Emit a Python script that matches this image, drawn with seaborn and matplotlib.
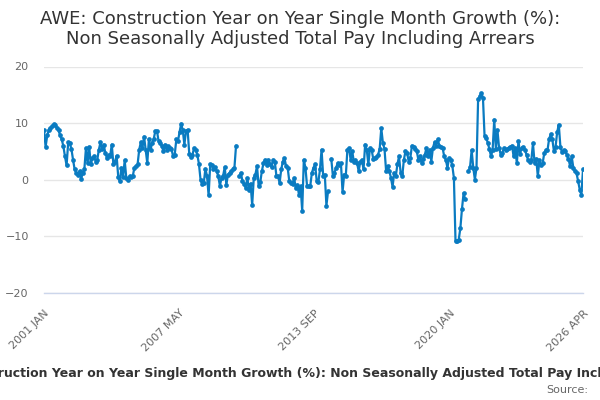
import numpy as np
import pandas as pd
import matplotlib
matplotlib.use("Agg")
import matplotlib.pyplot as plt
import seaborn as sns

# monthly values, 2001 JAN .. 2026 APR (NaN = gap in the series)
growth_2001_2005 = [8.7, 5.8, 7.8, 8.8, 9.1, 9.4, 9.8, 9.6, 9.1, 8.7, 7.8, 7.1, 5.9, 4.1, 2.5,
                    6.6, 6.4, 5.4, 3.5, 1.8, 1.2, 0.9, 1.5, 0.1, 1.2, 1.8, 5.6, 2.9, 5.8, 2.7,
                    3.8, 4.1, 3.2, 3.5, 5.3, 6.6, 5.4, 6.2, 4.7, 3.8, 4.4, 4.2, 6.2, 2.7, 3.2,
                    4.2, 0.5, -0.3, 2.1, 0.5, 3.4, 0.3, -0.1, 0.6]
growth_2005_2009 = [0.5, 0.6, 2.1, 2.4, 2.7, 5.3, 6.6, 5.6, 7.6, 5.3, 2.9, 7.2, 5.2, 6.5, 7.2,
                    8.6, 8.6, 6.8, 6.5, 6.0, 5.0, 6.2, 5.3, 5.9, 5.6, 5.4, 4.1, 4.4, 7.1, 6.8,
                    8.4, 9.9, 8.7, 6.2, 8.6, 8.8, 4.6, 4.0, 4.4, 5.6, 5.2, 4.4, 2.8, 0.0, -0.7,
                    -0.6, 1.9, 0.7, -2.8, 2.7, 2.5, 1.9, 2.2, 1.5, 0.6, -1.1, 0.3]
growth_2009_2013 = [0.7, 2.2, -0.9, 0.9, 1.2, 1.5, 1.8, 2.1, 6.0, np.nan, 0.6, 1.2, -0.3, -0.7,
                    -1.5, 0.3, -1.8, -0.7, -4.5, 0.3, 0.9, 2.4, -1.1, -0.5, 1.5, 2.9, 3.5, 2.5,
                    3.5, 2.7, 2.2, 3.5, 3.2, 0.7, 0.6, -0.6, 1.8, 3.2, 3.8, 2.4, 2.1, -0.3, -0.6,
                    -0.7, 0.3, -1.5, -0.9, -2.7, -1.2, -5.5, 3.5, 2.1, -1.1, -1.2, -1.1, 1.2,
                    2.1, 2.7]
growth_2013_2017 = [-0.3, -0.5, 1.8, 5.3, 0.6, 0.9, -4.6, -2.1, np.nan, 3.7, 0.7, 1.2, 2.1, 2.9,
                    2.5, 2.9, -2.2, 0.9, 0.6, 5.3, 5.6, 3.5, 5.0, 3.2, 3.5, 2.9, 1.5, 3.2, 3.5,
                    1.8, 6.2, 5.3, 2.7, 5.6, 5.3, 3.7, 3.8, 4.0, 4.4, 5.4, 9.1, 6.5, 5.4, 1.5,
                    2.4, 1.5, 0.3, -1.3, 1.2, 0.6, 2.7, 4.1, 1.2, 0.6, 3.5, 5.0]
growth_2017_2021 = [4.7, 3.2, 3.8, 6.0, 5.8, 5.4, 5.0, 3.5, 4.1, 2.9, 3.7, 4.4, 5.6, 4.1, 5.3,
                    3.2, 5.6, 6.6, 6.0, 7.1, 6.0, 5.8, 5.6, 4.1, 3.5, 2.1, 3.8, 3.5, 2.5, 0.3,
                    -10.9, -10.9, -10.6, -8.6, -5.2, -2.4, -3.5, np.nan, 1.5, 2.2, 5.2, 2.1, 0.0,
                    2.1, 14.2, 14.7, 15.3, 14.5, 7.7, 7.4, 6.5, 5.4, 4.1, 5.3, 10.6]
growth_2021_2026 = [5.4, 8.7, 5.6, 4.4, 4.7, 5.6, 5.2, 5.4, 5.6, 5.8, 6.0, 4.1, 5.6, 2.9, 6.8,
                    4.6, 5.6, 5.8, 5.3, 4.4, 3.4, 3.2, 3.5, 6.4, 2.9, 3.7, 0.6, 3.4, 2.5, 2.9,
                    4.7, 5.2, 5.2, 7.2, 8.0, 7.1, 5.0, 5.8, 8.4, 9.7, 5.8, 4.8, 5.2, 5.0, 4.4,
                    3.7, 2.4, 4.1, 2.1, 1.5, 1.1, -0.3, -1.8, -2.7, 1.8]

start_month = "2001-01"
end_month = "2026-04"
label_every = 4
tick_step = 19

title = ("AWE: Construction Year on Year Single Month Growth (%):\n"
         "Non Seasonally Adjusted Total Pay Including Arrears")
series_name = ("Construction Year on Year Single Month Growth (%): "
               "Non Seasonally Adjusted Total Pay Including Arrears")

values = np.array(growth_2001_2005 + growth_2005_2009 + growth_2009_2013
                  + growth_2013_2017 + growth_2017_2021 + growth_2021_2026)
start = pd.Timestamp(start_month)
end = pd.Timestamp(end_month)
n_months = (end.year - start.year) * 12 + (end.month - start.month)

df = pd.DataFrame({
    "month": np.linspace(0, n_months, len(values)),
    "value": values,
})
df["segment"] = df["value"].isna().cumsum()
df = df.dropna()

sns.set_theme(style="white")
plt.rcParams["font.family"] = ["DejaVu Sans"]

fig = plt.figure(figsize=(6, 4), dpi=100)
ax = fig.add_axes([44 / 600, 1 - 292.7 / 400, (583 - 44) / 600, (292.7 - 66.5) / 400])

line_color = "#0a7bc1"
sns.lineplot(data=df, x="month", y="value", units="segment", estimator=None,
             color=line_color, linewidth=1.6, marker="o", markersize=3.4,
             markeredgewidth=0, ax=ax)

ax.set_xlim(0, n_months)
ax.set_ylim(-20, 20)
ax.set_yticks([-20, -10, 0, 10, 20])
ax.yaxis.grid(True, color="#e6e6e6", linewidth=1)
ax.set_axisbelow(True)
ax.tick_params(axis="y", length=0, pad=11, labelsize=8, labelcolor="#666666")

ticks = list(range(0, n_months, tick_step)) + [n_months]
labels = []
for i, m in enumerate(ticks):
    if m == n_months or (i % label_every == 0 and n_months - m > tick_step):
        d = start + pd.DateOffset(months=m)
        labels.append(d.strftime("%Y %b").upper())
    else:
        labels.append("")
ax.set_xticks(ticks)
ax.set_xticklabels(labels, rotation=45, ha="right", rotation_mode="anchor")
ax.tick_params(axis="x", length=9, width=1, color="#ccd6eb", pad=2,
               labelsize=8, labelcolor="#666666")

for side in ["top", "right", "left"]:
    ax.spines[side].set_visible(False)
ax.spines["bottom"].set_color("#ccd6eb")
ax.spines["bottom"].set_linewidth(1)
ax.set_xlabel("")
ax.set_ylabel("")

fig.text(0.5, 1 - 29 / 400, title, ha="center", va="center", fontsize=13,
         color="#333333", linespacing=1.2)
# the reference cuts this legend text at both edges of the picture
fig.text(-0.07, 1 - 373 / 400, series_name, ha="left", va="center",
         fontsize=9, fontweight="bold", color="#333333")
fig.text(588 / 600, 1 - 390 / 400, "Source:", ha="right", va="center",
         fontsize=8, color="#666666")

fig.savefig("out.png", dpi=100)
